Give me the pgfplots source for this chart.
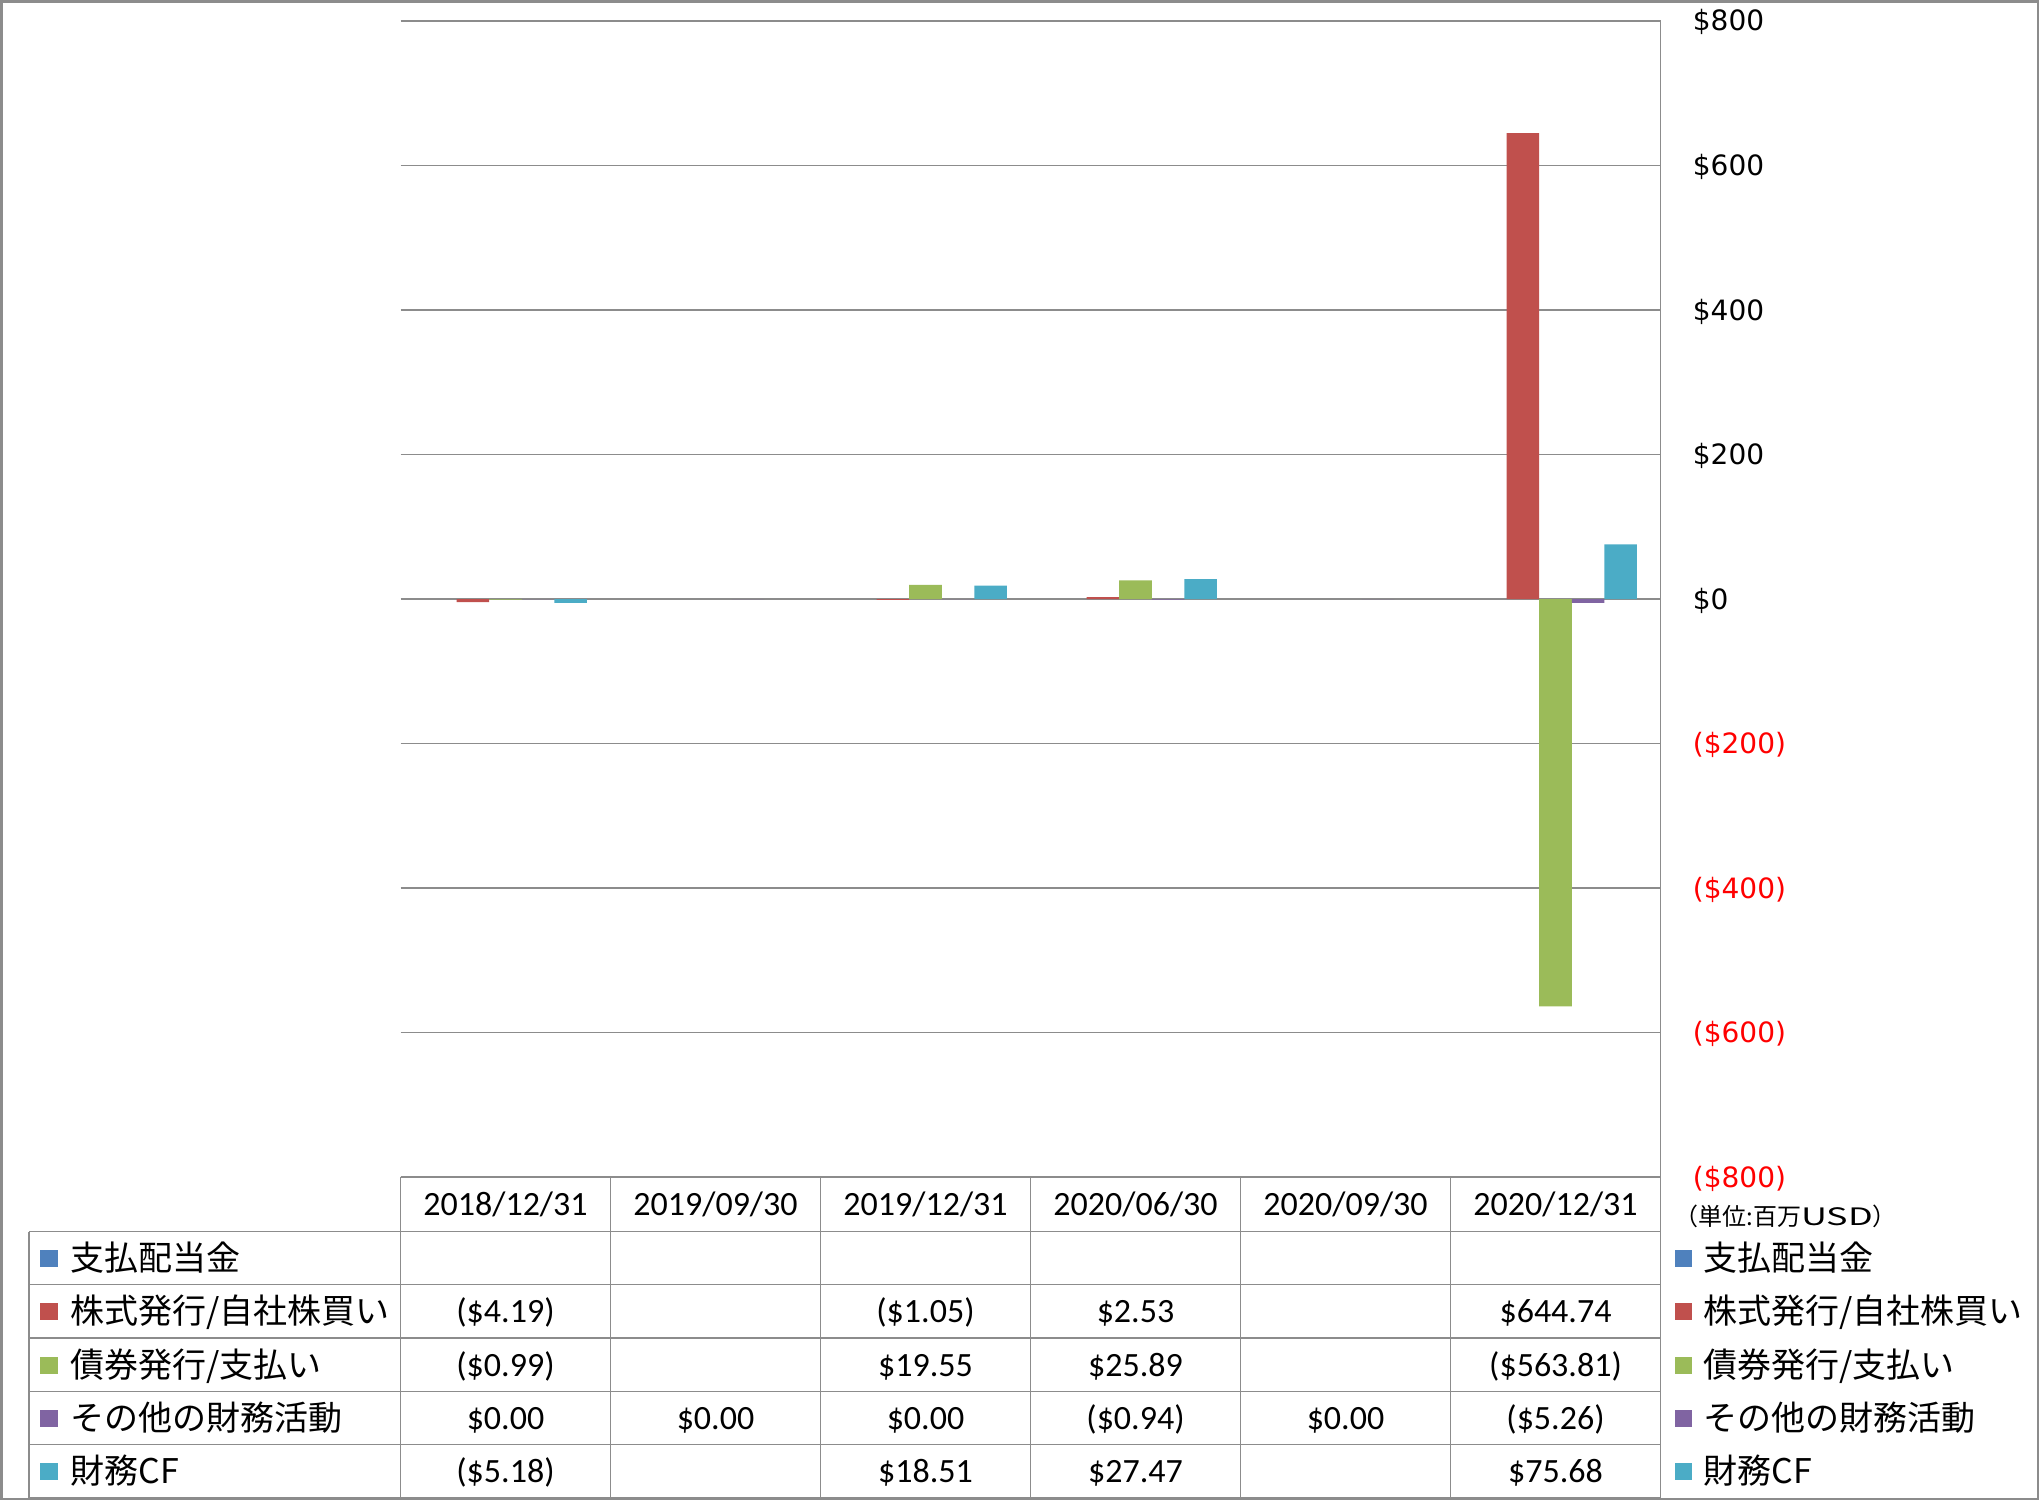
\documentclass[border=0pt]{standalone}
\usepackage{pgfplots}
\pgfplotsset{compat=1.18}
\usepackage{fontspec}
\setmainfont{Carlito}
\newfontfamily\jp{Noto Sans CJK JP}
\newfontfamily\dv{DejaVu Sans}
\definecolor{cblue}{HTML}{4F81BD}
\definecolor{cred}{HTML}{C0504D}
\definecolor{cgreen}{HTML}{9BBB59}
\definecolor{cpurple}{HTML}{8064A2}
\definecolor{ccyan}{HTML}{4BACC6}
\definecolor{gline}{HTML}{8C8C8C}
\begin{document}
\begin{tikzpicture}
\begin{scope}[x=0.5pt,y=-0.5pt]
\useasboundingbox (0,0) rectangle (2039,1500);
\end{scope}
\begin{axis}[
 at={(200.25pt,-588.5pt)}, anchor=south west,
 scale only axis, width=630pt, height=578pt,
 xmin=0, xmax=6, ymin=-800, ymax=800,
 axis line style={draw=none},
 xtick=\empty,
 ytick={-800,-600,-400,-200,0,200,400,600,800},
 yticklabels={{\color{red}(\$800)},{\color{red}(\$600)},{\color{red}(\$400)},{\color{red}(\$200)},\$0,\$200,\$400,\$600,\$800},
 yticklabel pos=right,
 yticklabel style={font=\dv\fontsize{14}{16}\selectfont, anchor=base west, inner sep=0pt, xshift=16pt, yshift=-5pt},
 major tick length=0pt,
 ymajorgrids, grid style={gline, line width=0.65pt},
 ybar, bar width=0.155,
 clip=false,
]
\addplot[fill=cred, draw=none, bar shift=-0.155] coordinates {(0.5,-4.19) (2.5,-1.05) (3.5,2.53) (5.5,644.74)};
\addplot[fill=cgreen, draw=none, bar shift=0] coordinates {(0.5,-0.99) (2.5,19.55) (3.5,25.89) (5.5,-563.81)};
\addplot[fill=cpurple, draw=none, bar shift=0.155] coordinates {(0.5,0) (1.5,0) (2.5,0) (3.5,-0.94) (4.5,0) (5.5,-5.26)};
\addplot[fill=ccyan, draw=none, bar shift=0.31] coordinates {(0.5,-5.18) (2.5,18.51) (3.5,27.47) (5.5,75.68)};
\end{axis}
\begin{scope}[x=0.5pt,y=-0.5pt]
% table lines
\draw[gline, line width=0.65pt] (400.5,1177) -- (1660.5,1177);
\foreach \y in {1231.5,1284.8,1338.1,1391.5,1444.8,1498} \draw[gline, line width=0.65pt] (29,\y) -- (1660.5,\y);
\foreach \x in {400.5,610.5,820.5,1030.5,1240.5,1450.5} \draw[gline, line width=0.65pt] (\x,1177) -- (\x,1498);
\draw[gline, line width=0.65pt] (1660.5,21) -- (1660.5,1498);
\draw[gline, line width=0.65pt] (29,1231.5) -- (29,1498);
% frame
\draw[gline, line width=1.25pt] (1.25,1.25) rectangle (2037.75,1498.75);
% header
\begin{scope}[every node/.style={font=\fontsize{17}{20}\selectfont, anchor=base, inner sep=0pt}]
\node at (505.5,1215) {2018/12/31};
\node at (715.5,1215) {2019/09/30};
\node at (925.5,1215) {2019/12/31};
\node at (1135.5,1215) {2020/06/30};
\node at (1345.5,1215) {2020/09/30};
\node at (1555.5,1215) {2020/12/31};
% red row
\node at (505.5,1322.5) {(\$4.19)};
\node at (925.5,1322.5) {(\$1.05)};
\node at (1135.5,1322.5) {\$2.53};
\node at (1555.5,1322.5) {\$644.74};
% green row
\node at (505.5,1376) {(\$0.99)};
\node at (925.5,1376) {\$19.55};
\node at (1135.5,1376) {\$25.89};
\node at (1555.5,1376) {(\$563.81)};
% purple row
\node at (505.5,1429) {\$0.00};
\node at (715.5,1429) {\$0.00};
\node at (925.5,1429) {\$0.00};
\node at (1135.5,1429) {(\$0.94)};
\node at (1345.5,1429) {\$0.00};
\node at (1555.5,1429) {(\$5.26)};
% cyan row
\node at (505.5,1482.5) {(\$5.18)};
\node at (925.5,1482.5) {\$18.51};
\node at (1135.5,1482.5) {\$27.47};
\node at (1555.5,1482.5) {\$75.68};
\end{scope}
% legend squares + labels
\begin{scope}[every node/.style={font=\jp\fontsize{17}{20}\selectfont, anchor=base west, inner sep=0pt}]
\foreach \c/\yc in {cblue/1258, cred/1311.5, cgreen/1365, cpurple/1418, ccyan/1471.5}{
  \fill[\c] (40,\yc-8.5) rectangle (58,\yc+8.5);
  \fill[\c] (1675,\yc-8.5) rectangle (1692,\yc+8.5);
}
\node at (70,1270) {支払配当金};
\node at (70,1323.5) {株式発行/自社株買い};
\node at (70,1377) {債券発行/支払い};
\node at (70,1430) {その他の財務活動};
\node at (70,1483.5) {財務CF};
\node at (1703,1270) {支払配当金};
\node at (1703,1323.5) {株式発行/自社株買い};
\node at (1703,1377) {債券発行/支払い};
\node at (1703,1430) {その他の財務活動};
\node at (1703,1483.5) {財務CF};
\node[font=\jp\fontsize{12}{14}\selectfont] at (1674,1225) {（単位:百万\scalebox{1.5}[1]{USD}）};
\end{scope}
\end{scope}
\end{tikzpicture}
\end{document}
